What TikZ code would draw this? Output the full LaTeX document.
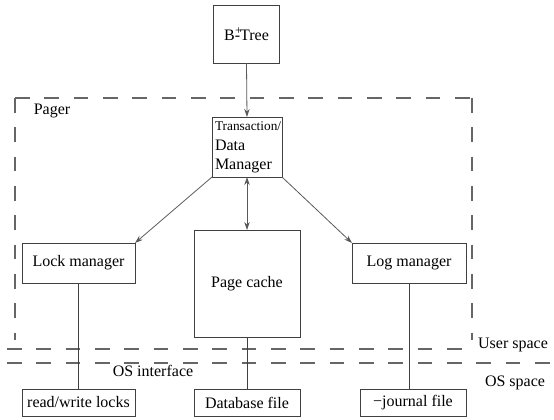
\documentclass[tikz,border=0pt]{standalone}
\usepackage{fontspec}
\setmainfont{Liberation Serif}
\usetikzlibrary{arrows.meta}
\begin{document}
\begin{tikzpicture}[x=0.75pt,y=-0.75pt,
  box/.style={draw=black!75,line width=0.6pt,inner sep=0pt,outer sep=0pt,font=\fontsize{12}{14}\selectfont},
  arr/.style={draw=black!65,line width=0.6pt,-{Stealth[length=6pt,width=4pt,inset=2pt]}},
  link/.style={draw=black!75,line width=0.6pt},
  sep/.style={draw=black!60,line width=1.1pt,dash pattern=on 11pt off 11pt},
  lbl/.style={font=\fontsize{12}{14}\selectfont}]
\useasboundingbox (0,0) rectangle (554,419);

% Pager boundary and space separators
\draw[sep] (15,98) -- (472,98);
\draw[sep] (15,98) -- (15,340);
\draw[sep] (472,98) -- (472,340);
\draw[sep] (7,349) -- (465,349);
\draw[sep] (7,363) -- (554,363);
\node[lbl] (pager) at (52,111) {Pager};
\node[lbl] (user) at (513,345) {User space};
\node[lbl] (os) at (515,383) {OS space};
\node[lbl] (osif) at (153,371) {OS interface};

% Modules
\node[box,minimum width=50pt,minimum height=43.5pt] (tree) at (246.5,34)
  {B\rlap{\kern0.3pt\raisebox{0.75ex}{\fontsize{9}{9}\selectfont +}}-Tree};
\node[box,minimum width=52.5pt,minimum height=45pt,text width=48pt,align=left,inner xsep=2.2pt] (txn) at (247,147)
  {{\fontsize{10}{12}\selectfont Transaction/}\\[1pt]Data\\Manager};
\node[box,minimum width=84.75pt,minimum height=30pt] (lock) at (78.5,263) {Lock manager};
\node[box,minimum width=79.5pt,minimum height=80.25pt] (cache) at (247,283.5) {Page cache};
\node[box,minimum width=85.5pt,minimum height=30pt] (log) at (409,263) {Log manager};

% OS files
\node[box,minimum width=84.75pt,minimum height=20.25pt] (rw) at (78.5,402.5) {read/write locks};
\node[box,minimum width=79.5pt,minimum height=20.25pt] (db) at (247,402.5) {Database file};
\node[box,minimum width=79.5pt,minimum height=20.25pt] (jrn) at (413,402.5) {\textminus journal file};

% Connections
\draw[arr] (tree.south) -- (txn.north);
\draw[arr] (txn.south west) -- (lock.north east);
\draw[arr] (txn.south east) -- (log.north west);
\draw[arr,{Stealth[length=6pt,width=4pt,inset=2pt]}-{Stealth[length=6pt,width=4pt,inset=2pt]}] (txn.south) -- (cache.north);
\draw[link] (lock.south) -- (rw.north);
\draw[link] (cache.south) -- (db.north);
\draw[link] (log.south) -- (log.south |- jrn.north);
\end{tikzpicture}
\end{document}
